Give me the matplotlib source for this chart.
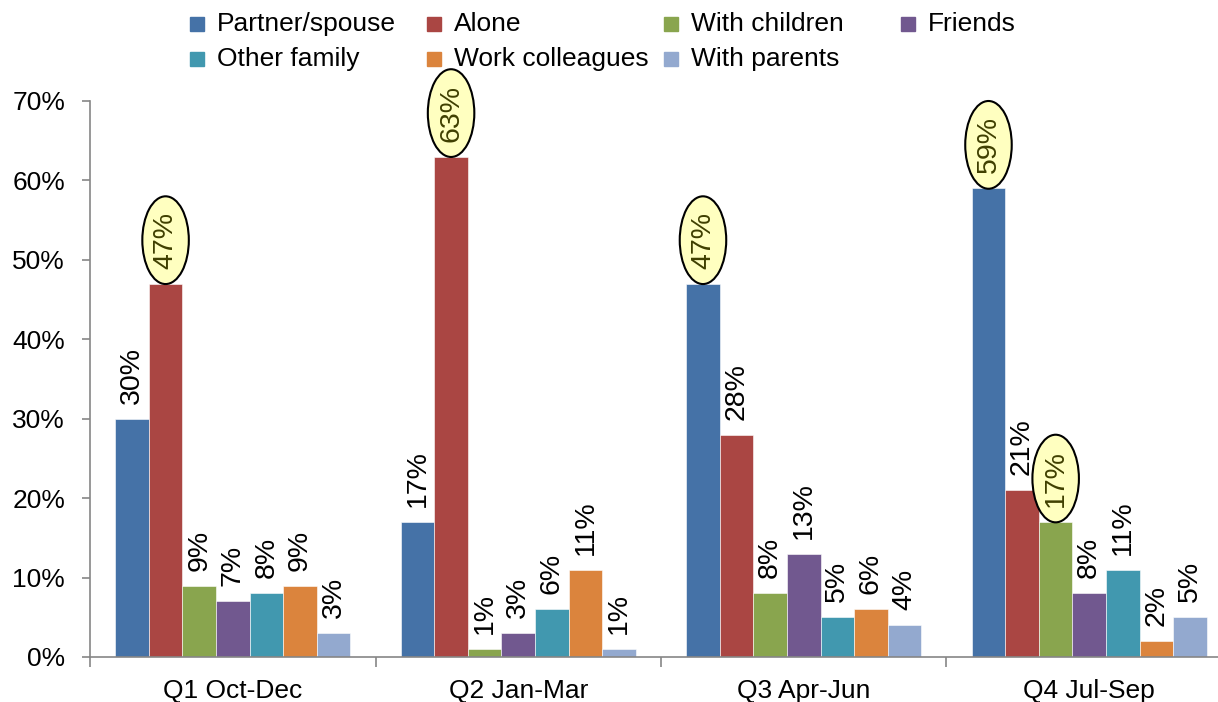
"""Who people live with, by quarter - grouped bar chart"""

import numpy as np
import matplotlib
matplotlib.use('Agg')
import matplotlib.pyplot as plt
from matplotlib.path import Path
from matplotlib.transforms import Affine2D, offset_copy
from matplotlib.patches import Rectangle

plt.rcParams['font.family'] = ['Liberation Sans', 'DejaVu Sans']

# data
quarters = ['Q1 Oct-Dec', 'Q2 Jan-Mar', 'Q3 Apr-Jun', 'Q4 Jul-Sep']
series = ['Partner/spouse', 'Alone', 'With children', 'Friends',
          'Other family', 'Work colleagues', 'With parents']
partner = [30, 17, 47, 59]
alone = [47, 63, 28, 21]
children = [9, 1, 8, 17]
friends = [7, 3, 13, 8]
other_family = [8, 6, 5, 11]
colleagues = [9, 11, 6, 2]
parents = [3, 1, 4, 5]
values = [partner, alone, children, friends, other_family, colleagues, parents]

# labels drawn in a yellow ellipse: (series index, quarter index)
highlighted = [(1, 0), (1, 1), (0, 2), (0, 3), (2, 3)]

colors = ['#4572A7', '#AA4643', '#89A54E', '#71588F',
          '#4198AF', '#DB843D', '#93A9CF']

W, H = 1218, 702
fig = plt.figure(figsize=(W / 100, H / 100), dpi=100)
ax = fig.add_axes([90 / W, (H - 657) / H, 1142 / W, 556 / H])

n = len(series)
bar_w = 1 / 8.5   # Excel gap width 150%
x = np.arange(len(quarters))


def ellipse_box(x0, y0, width, height, mutation_size):
    # ellipse around the (unrotated) text box, with separate paddings
    a = width / 2 + 0.54 * mutation_size
    b = height / 2 + 0.36 * mutation_size
    tr = Affine2D().scale(a, b).translate(x0 + width / 2, y0 + height / 2)
    return tr.transform_path(Path.unit_circle())


label_tr = offset_copy(ax.transData, fig=fig, x=0, y=15, units='dots')

for i, (name, vals) in enumerate(zip(series, values)):
    pos = x - 0.5 + (1.25 + i) * bar_w
    ax.bar(pos, np.array(vals) / 100, width=bar_w, color=colors[i],
           edgecolor='white', linewidth=0.4, zorder=2)
    for j, v in enumerate(vals):
        kw = {}
        col = 'black'
        if (i, j) in highlighted:
            kw['bbox'] = dict(boxstyle=ellipse_box, fc='#FFFFC0', ec='black', lw=1.5)
            col = '#3F3F00'
        ax.text(pos[j], v / 100, f'{v}%', rotation=90, ha='center', va='bottom',
                fontsize=20.5, color=col, transform=label_tr, zorder=4, **kw)

ax.set_ylim(0, 0.7)
ax.set_xlim(-0.5, len(quarters) - 0.5)
ax.set_yticks(np.arange(0, 0.71, 0.1))
ax.set_yticklabels([f'{int(round(t * 100))}%' for t in np.arange(0, 0.71, 0.1)])
ax.set_xticks(x)
ax.set_xticklabels(quarters)
ax.set_xticks(np.arange(len(quarters) + 1) - 0.5, minor=True)
ax.tick_params(axis='x', which='major', length=0, pad=16, labelsize=19)
ax.tick_params(axis='x', which='minor', length=7, color='#868686', width=1.2)
ax.tick_params(axis='y', length=6, color='#868686', width=1.2, pad=12, labelsize=19)
for side in ['top', 'right']:
    ax.spines[side].set_visible(False)
for side in ['left', 'bottom']:
    ax.spines[side].set_color('#868686')
    ax.spines[side].set_linewidth(1.2)

# legend laid out like the Excel one: 4 equal columns, 2 rows
col_x = [197, 434, 671, 908]
row_y = [24, 59]
for i, name in enumerate(series):
    cx = col_x[i % 4]
    cy = row_y[i // 4]
    fig.patches.append(Rectangle(((cx - 7) / W, (H - cy - 7) / H), 14 / W, 14 / H,
                                 transform=fig.transFigure, color=colors[i]))
    fig.text((cx + 20) / W, (H - cy) / H, name, fontsize=19, va='center', ha='left')

fig.savefig('out.png', dpi=100)
